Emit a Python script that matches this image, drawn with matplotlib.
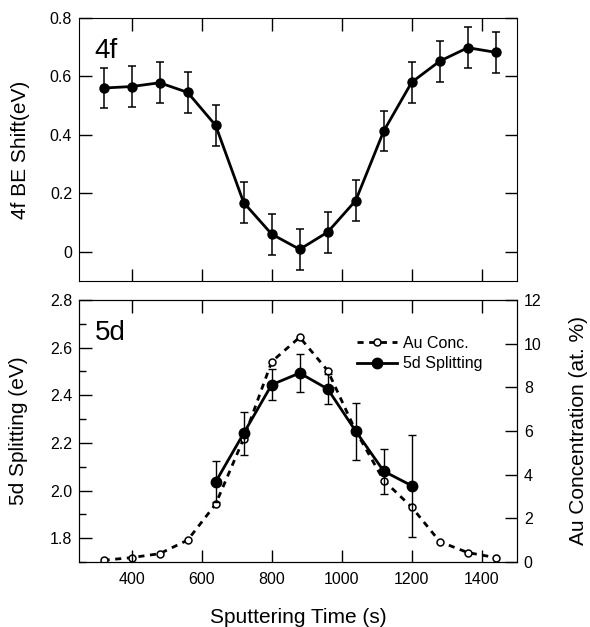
import numpy as np
import matplotlib
matplotlib.use("Agg")
import matplotlib.pyplot as plt
from matplotlib.ticker import MultipleLocator
from matplotlib.lines import Line2D

plt.rcParams['font.family'] = ['Liberation Sans', 'DejaVu Sans']

# 4f BE shift (top panel)
t_4f = [320, 400, 480, 560, 640, 720, 800, 880, 960, 1040, 1120, 1200, 1280, 1360, 1440]
shift_4f = [0.56, 0.565, 0.578, 0.545, 0.432, 0.168, 0.06, 0.008, 0.067, 0.175, 0.413, 0.58, 0.652, 0.698, 0.682]
err_4f = [0.07] * 15

# 5d splitting (bottom panel, left axis)
t_5d = [640, 720, 800, 880, 960, 1040, 1120, 1200]
split_5d = [2.036, 2.24, 2.444, 2.493, 2.426, 2.249, 2.081, 2.02]
err_5d = [0.086, 0.09, 0.065, 0.078, 0.065, 0.12, 0.095, 0.215]

# Au concentration (bottom panel, right axis)
t_au = [320, 400, 480, 560, 640, 720, 800, 880, 960, 1040, 1120, 1200, 1280, 1360, 1440]
au_conc = [0.08, 0.2, 0.38, 1.0, 2.65, 5.65, 9.17, 10.29, 8.76, 6.0, 3.73, 2.51, 0.93, 0.43, 0.2]

fig = plt.figure(figsize=(5.90, 6.27), dpi=100)
ax1 = fig.add_axes([0.134, 0.552, 0.742, 0.4195])
ax2 = fig.add_axes([0.134, 0.1037, 0.742, 0.418])

fs = 11.5
lab = 15
xt = [400, 600, 800, 1000, 1200, 1400]

# top panel
ax1.errorbar(t_4f, shift_4f, yerr=err_4f, color='black', marker='o', ms=6.5,
             lw=2, elinewidth=1.1, capsize=3, capthick=1.1)
ax1.set_xlim(250, 1500)
ax1.set_ylim(-0.1, 0.8)
ax1.set_yticks([0, 0.2, 0.4, 0.6, 0.8])
ax1.set_yticklabels(['0', '0.2', '0.4', '0.6', '0.8'])
ax1.set_xticks(xt)
ax1.tick_params(direction='in', top=True, right=True, labelbottom=False,
                labelsize=fs, length=9, width=1, pad=5)
ax1.set_ylabel('4f BE Shift(eV)', fontsize=lab)
ax1.yaxis.set_label_coords(-0.112, 0.5)
ax1.text(0.035, 0.925, '4f', transform=ax1.transAxes, fontsize=20, va='top')

# bottom panel
ax3 = ax2.twinx()
ax3.plot(t_au, au_conc, color='black', ls=(0, (2.2, 2)), lw=2, marker='o',
         ms=5, mfc='white', mew=1.1)
ax3.set_ylim(0, 12)
ax3.set_yticks([0, 2, 4, 6, 8, 10, 12])
ax3.tick_params(direction='in', labelsize=fs, length=9, width=1, pad=5)
ax3.set_ylabel('Au Concentration (at. %)', fontsize=lab)
ax3.yaxis.set_label_coords(1.12, 0.5)

ax2.errorbar(t_5d, split_5d, yerr=err_5d, color='black', marker='o', ms=7.5,
             lw=2, elinewidth=1.0, capsize=3, capthick=1.0)
ax2.set_zorder(ax3.get_zorder() + 1)
ax2.patch.set_visible(False)
ax2.set_xlim(250, 1500)
ax2.set_ylim(1.7, 2.8)
ax2.set_yticks([1.8, 2.0, 2.2, 2.4, 2.6, 2.8])
ax2.yaxis.set_minor_locator(MultipleLocator(0.1))
ax2.set_xticks(xt)
ax2.tick_params(direction='in', top=True, labelsize=fs, length=9, width=1, pad=5)
ax2.tick_params(axis='x', pad=7)
ax2.tick_params(which='minor', direction='in', length=5, width=1)
ax2.set_ylabel('5d Splitting (eV)', fontsize=lab)
ax2.yaxis.set_label_coords(-0.116, 0.5)
ax2.set_xlabel('Sputtering Time (s)', fontsize=lab, labelpad=15)
ax2.text(0.035, 0.925, '5d', transform=ax2.transAxes, fontsize=20, va='top')

handles = [
    Line2D([], [], color='black', ls=(0, (2.2, 2)), lw=2, marker='o', ms=5,
           mfc='white', mew=1.1),
    Line2D([], [], color='black', lw=2, marker='o', ms=7.5),
]
ax2.legend(handles, ['Au Conc.', '5d Splitting'], loc='center left',
           bbox_to_anchor=(0.635, 0.796), frameon=False, fontsize=fs,
           handlelength=2.5, handletextpad=0.4, labelspacing=0.35,
           borderpad=0, borderaxespad=0)

fig.savefig('out.png', dpi=100)
